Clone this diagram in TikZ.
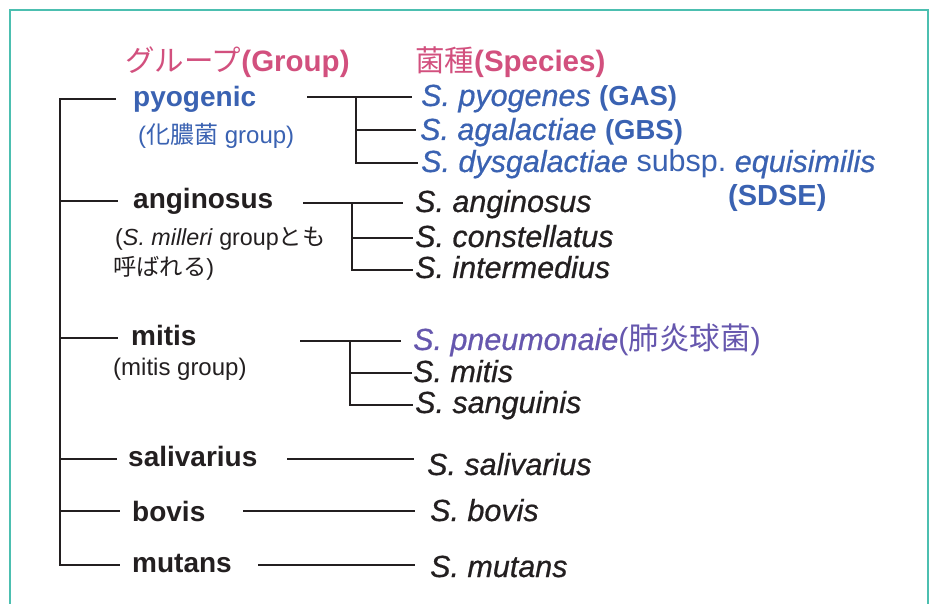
\documentclass[tikz,border=0pt]{standalone}
\usepackage{fontspec}
\setmainfont{Liberation Sans}
\newfontfamily\cjk{Noto Sans CJK JP}
\newfontface\spit{Liberation Sans Italic}[FakeBold=0.6]
\newcommand\myb[1]{{\fontsize{27.5}{30}\rmfamily\upshape\bfseries #1}}
\newcommand\myr[1]{{\rmfamily\upshape\mdseries #1}}
\definecolor{ink}{HTML}{231F20}
\definecolor{pinkh}{HTML}{D2507E}
\definecolor{blueg}{HTML}{3A62B2}
\definecolor{purp}{HTML}{6657AE}
\definecolor{tealb}{HTML}{4CBFB0}
\tikzset{
  grp/.style={anchor=base west, inner sep=0pt, font=\fontsize{28}{30}\selectfont\bfseries, text=ink},
  subt/.style={anchor=base west, inner sep=0pt, font=\fontsize{24}{26}\selectfont, text=ink},
  spc/.style={anchor=base west, inner sep=0pt, font=\fontsize{30.5}{32}\spit, text=ink},
  hdr/.style={anchor=base west, inner sep=0pt, font=\fontsize{29.5}{31}\selectfont, text=pinkh},
  ln/.style={line width=2.4pt, draw=ink, line cap=butt},
}
\begin{document}
\begin{tikzpicture}[x=1pt,y=-1pt]
\useasboundingbox (0,0) rectangle (930,604);
\fill[white] (0,0) rectangle (930,604);
\draw[tealb, line width=1.5pt] (10,604) -- (10,10) -- (928,10) -- (928,604);

% headers
\node[hdr] (hg) at (125,72) {{\cjk グループ}\textbf{(Group)}};
\node[hdr] (hs) at (415,72) {{\cjk 菌種}\textbf{(Species)}};

% groups
\node[grp, text=blueg] (g1) at (133,107) {pyogenic};
\node[subt, text=blueg] (g1s) at (138,144) {({\cjk 化膿菌} group)};
\node[grp] (g2) at (133,209) {anginosus};
\node[subt, font=\fontsize{23.3}{25}\selectfont] (g2s) at (115,246) {(\textit{S. milleri} group{\cjk とも}};
\node[subt, font=\fontsize{23.3}{25}\selectfont] (g2t) at (113,276) {{\cjk 呼ばれる})};
\node[grp] (g3) at (131,346) {mitis};
\node[subt] (g3s) at (113,375) {(mitis group)};
\node[grp] (g4) at (128,466) {salivarius};
\node[grp] (g5) at (132,521) {bovis};
\node[grp] (g6) at (132,572) {mutans};

% main tree
\coordinate (vt) at (60,99);
\coordinate (vb) at (60,565);
\coordinate (h1) at (116,99);
\coordinate (h2) at (118,201);
\coordinate (h3) at (118,338);
\coordinate (h4) at (117,459);
\coordinate (h5) at (120,511);
\coordinate (h6) at (120,565);
\coordinate (v2) at (60,201);
\coordinate (v3) at (60,338);
\coordinate (v4) at (60,459);
\coordinate (v5) at (60,511);
\draw[ln] (h1) -- (vt) -- (vb) -- (h6);
\draw[ln] (v2) -- (h2);
\draw[ln] (v3) -- (h3);
\draw[ln] (v4) -- (h4);
\draw[ln] (v5) -- (h5);

% species: pyogenic
\node[spc, text=blueg] (s11) at (421,106) {S. pyogenes \myb{(GAS)}};
\node[spc, text=blueg] (s12) at (420,140) {S. agalactiae \myb{(GBS)}};
\node[spc, text=blueg] (s13) at (421,172) {S. dysgalactiae \myr{subsp.}~equisimilis};
\node[grp, text=blueg, font=\fontsize{29}{31}\selectfont\bfseries] (s13b) at (728,206) {(SDSE)};
\coordinate (p1) at (307,97);
\coordinate (p1e) at (412,97);
\coordinate (p1v) at (356,97);
\coordinate (p1b) at (356,163);
\coordinate (p1m) at (356,130);
\coordinate (p12) at (416,130);
\coordinate (p13) at (418,163);
\draw[ln] (p1) -- (p1e);
\draw[ln] (p1v) -- (p1b) -- (p13);
\draw[ln] (p1m) -- (p12);

% species: anginosus
\node[spc] (s21) at (415,212) {S. anginosus};
\node[spc] (s22) at (415,247) {S. constellatus};
\node[spc] (s23) at (415,278) {S. intermedius};
\coordinate (p2) at (303,203);
\coordinate (p2e) at (403,203);
\coordinate (p2v) at (352,203);
\coordinate (p2b) at (352,270);
\coordinate (p2m) at (352,238);
\coordinate (p22) at (413,238);
\coordinate (p23) at (413,270);
\draw[ln] (p2) -- (p2e);
\draw[ln] (p2v) -- (p2b) -- (p23);
\draw[ln] (p2m) -- (p22);

% species: mitis
\node[spc, text=purp] (s31) at (413,350) {S. pneumonaie{\rmfamily\upshape\mdseries({\cjk 肺炎球菌})}};
\node[spc] (s32) at (413,382) {S. mitis};
\node[spc] (s33) at (415,413) {S. sanguinis};
\coordinate (p3) at (300,341);
\coordinate (p3e) at (401,341);
\coordinate (p3v) at (350,341);
\coordinate (p3b) at (350,405);
\coordinate (p3m) at (350,373);
\coordinate (p32) at (412,373);
\coordinate (p33) at (413,405);
\draw[ln] (p3) -- (p3e);
\draw[ln] (p3v) -- (p3b) -- (p33);
\draw[ln] (p3m) -- (p32);

% single species
\node[spc] (s41) at (427,475) {S. salivarius};
\node[spc] (s51) at (430,521) {S. bovis};
\node[spc] (s61) at (430,577) {S. mutans};
\coordinate (p4) at (287,459);
\coordinate (p4e) at (414,459);
\coordinate (p5) at (243,511);
\coordinate (p5e) at (415,511);
\coordinate (p6) at (258,565);
\coordinate (p6e) at (415,565);
\draw[ln] (p4) -- (p4e);
\draw[ln] (p5) -- (p5e);
\draw[ln] (p6) -- (p6e);
\end{tikzpicture}
\end{document}
